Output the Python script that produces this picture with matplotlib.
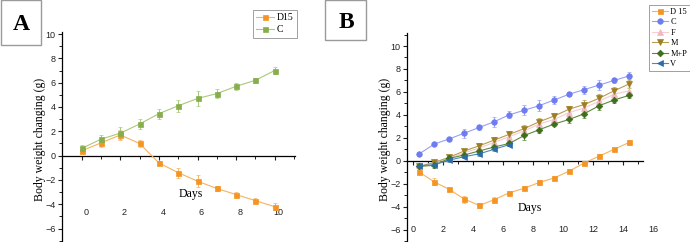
import matplotlib
matplotlib.use("Agg")
import matplotlib.pyplot as plt
from matplotlib.patches import Rectangle
from matplotlib.lines import Line2D
from matplotlib.ticker import MultipleLocator
import matplotlib.transforms as mtrans

# ---------------- Data: panel A ----------------
days_a = [0, 1, 2, 3, 4, 5, 6, 7, 8, 9, 10]
a_d15 = [0.4, 1.05, 1.7, 1.0, -0.6, -1.4, -2.1, -2.7, -3.2, -3.7, -4.2]
a_d15_err = [0.2, 0.3, 0.4, 0.3, 0.2, 0.4, 0.5, 0.2, 0.2, 0.2, 0.3]
a_c = [0.6, 1.35, 1.85, 2.6, 3.45, 4.1, 4.7, 5.1, 5.7, 6.2, 7.0]
a_c_err = [0.3, 0.35, 0.5, 0.4, 0.4, 0.5, 0.6, 0.4, 0.3, 0.2, 0.3]

# ---------------- Data: panel B ----------------
days_b = [0.4, 1.4, 2.4, 3.4, 4.4, 5.4, 6.4, 7.4, 8.4, 9.4, 10.4, 11.4, 12.4, 13.4, 14.4]
b_d15 = [-1.0, -1.85, -2.5, -3.35, -3.9, -3.4, -2.8, -2.4, -1.9, -1.5, -0.9, -0.2, 0.4, 1.0, 1.6]
b_d15_err = [0.2, 0.3, 0.15, 0.3, 0.25, 0.2, 0.2, 0.15, 0.2, 0.15, 0.15, 0.15, 0.15, 0.15, 0.2]
b_c = [0.6, 1.45, 1.9, 2.4, 2.9, 3.4, 4.0, 4.4, 4.8, 5.3, 5.8, 6.2, 6.6, 7.0, 7.4]
b_c_err = [0.2, 0.2, 0.15, 0.4, 0.2, 0.45, 0.3, 0.45, 0.45, 0.35, 0.2, 0.35, 0.45, 0.25, 0.3]
b_f = [-0.4, -0.2, 0.2, 0.7, 1.1, 1.6, 2.1, 2.6, 3.2, 3.6, 4.2, 4.6, 5.2, 5.8, 6.1]
b_f_err = [0.2, 0.2, 0.2, 0.2, 0.25, 0.25, 0.3, 0.3, 0.3, 0.3, 0.35, 0.35, 0.35, 0.35, 0.35]
b_m = [-0.5, -0.15, 0.3, 0.85, 1.3, 1.8, 2.3, 2.8, 3.4, 3.9, 4.5, 4.9, 5.45, 6.1, 6.7]
b_m_err = [0.2, 0.2, 0.2, 0.2, 0.2, 0.25, 0.25, 0.3, 0.3, 0.3, 0.3, 0.35, 0.35, 0.35, 0.35]
b_mp = [-0.5, -0.4, 0.2, 0.5, 0.85, 1.2, 1.5, 2.2, 2.7, 3.2, 3.6, 4.1, 4.8, 5.3, 5.7]
b_mp_err = [0.15, 0.2, 0.15, 0.2, 0.2, 0.2, 0.25, 0.4, 0.3, 0.2, 0.3, 0.35, 0.4, 0.3, 0.25]
days_v = [0.4, 1.4, 2.4, 3.4, 4.4, 5.4, 6.4]
b_v = [-0.45, -0.35, 0.05, 0.35, 0.6, 1.0, 1.4]
b_v_err = [0.15, 0.15, 0.15, 0.15, 0.15, 0.15, 0.15]

xticks_a = [0, 2, 4, 6, 8, 10]
xticks_b = [0, 2, 4, 6, 8, 10, 12, 14, 16]
yticks = [-6, -4, -2, 0, 2, 4, 6, 8, 10]

SERIF = "Liberation Serif"
SANS = "Liberation Sans"

W, H = 690, 242
fig = plt.figure(figsize=(W / 100, H / 100), dpi=100)


def px_axes(left, right, top, bottom):
    return fig.add_axes([left / W, 1 - bottom / H, (right - left) / W, (bottom - top) / H])


def style_axes(ax, xpad, label_dx):
    for s in ("top", "right"):
        ax.spines[s].set_visible(False)
    ax.spines["bottom"].set_position(("data", 0))
    ax.spines["left"].set_linewidth(0.9)
    ax.spines["bottom"].set_linewidth(0.9)
    ax.yaxis.set_major_locator(MultipleLocator(2))
    ax.yaxis.set_minor_locator(MultipleLocator(1))
    ax.xaxis.set_minor_locator(MultipleLocator(1))
    ax.tick_params(which="both", direction="out", labelsize=6.5, colors="#222222")
    ax.tick_params(which="major", length=3, width=0.8)
    ax.tick_params(which="minor", length=2, width=0.7)
    ax.tick_params(axis="x", which="major", pad=xpad)
    ax.tick_params(axis="y", which="major", pad=1.5)
    for lab in ax.get_xticklabels() + ax.get_yticklabels():
        lab.set_fontfamily(SANS)
    if label_dx:
        off = mtrans.ScaledTranslation(label_dx / 100, 0, fig.dpi_scale_trans)
        for lab in ax.get_xticklabels():
            lab.set_transform(lab.get_transform() + off)


def series(ax, x, y, e, color, lcolor, marker, ms, label, handles):
    ax.errorbar(x, y, yerr=e, color=lcolor, ecolor=lcolor, elinewidth=0.7, capsize=1.5,
                capthick=0.7, lw=0.8, marker=marker, ms=ms, mfc=color, mec=color,
                mew=0.5, zorder=3)
    handles.append(Line2D([], [], color=lcolor, lw=0.8, marker=marker, ms=ms, mfc=color,
                          mec=color, mew=0.5, label=label))


# ---------------- Panel A ----------------
axA = px_axes(62, 295, 32.2, 242)
axA.set_xlim(-1.02, 11.05)
axA.set_ylim(-7.1, 10.15)
axA.set_xticks(xticks_a)
axA.set_yticks(yticks)
hA = []
series(axA, days_a, a_d15, a_d15_err, "#F39423", "#F7B25E", "s", 3.6, "D15", hA)
series(axA, days_a, a_c, a_c_err, "#86AE4C", "#A9C97A", "s", 3.6, "C", hA)
style_axes(axA, 35, 4)
axA.text(0.553, 0.229, "Days", transform=axA.transAxes, ha="center", va="center",
         fontsize=8.5, fontfamily=SERIF)
fig.text(40 / W, 1 - 139 / H, "Body weight changing (g)", rotation=90, ha="center",
         va="center", fontsize=8.5, fontfamily=SERIF)
legA = fig.legend(handles=hA, loc="upper right",
                  bbox_to_anchor=(297 / W, 1 - 10 / H), frameon=True, fancybox=False,
                  prop={"family": SERIF, "size": 7}, handlelength=1.8, handletextpad=0.3,
                  borderpad=0.35, labelspacing=0.3, borderaxespad=0)
legA.get_frame().set_edgecolor("#888888")
legA.get_frame().set_linewidth(0.7)

# ---------------- Panel B ----------------
axB = px_axes(406.7, 657.8, 33.4, 242)
axB.set_xlim(-0.44, 16.3)
axB.set_ylim(-7.09, 11.1)
axB.set_xticks(xticks_b)
axB.set_yticks(yticks)
hB = []
series(axB, days_b, b_d15, b_d15_err, "#F39423", "#F7B25E", "s", 3.6, "D 15", hB)
series(axB, days_b, b_c, b_c_err, "#6E7CF0", "#97A1F4", "o", 4.0, "C", hB)
series(axB, days_b, b_f, b_f_err, "#F2B8C2", "#F5CDD3", "^", 4.0, "F", hB)
series(axB, days_b, b_m, b_m_err, "#9E7E22", "#B89C4E", "v", 4.2, "M", hB)
series(axB, days_b, b_mp, b_mp_err, "#3E6E1C", "#5E8A3A", "D", 3.4, "M+P", hB)
series(axB, days_v, b_v, b_v_err, "#2A6CA8", "#4F88BB", "<", 4.2, "V", hB)
style_axes(axB, 43, 0)
axB.spines["bottom"].set_bounds(-0.44, 15.3)
axB.xaxis.get_major_ticks()[-1].tick1line.set_visible(False)
axB.text(0.491, 0.163, "Days", transform=axB.transAxes, ha="center", va="center",
         fontsize=8.5, fontfamily=SERIF)
fig.text(385 / W, 1 - 139 / H, "Body weight changing (g)", rotation=90, ha="center",
         va="center", fontsize=8.5, fontfamily=SERIF)
legB = fig.legend(handles=hB, loc="upper right",
                  bbox_to_anchor=(690 / W, 1 - 5 / H), frameon=True, fancybox=False,
                  prop={"family": SERIF, "size": 6}, handlelength=1.9, handletextpad=0.3,
                  borderpad=0.35, labelspacing=0.3, borderaxespad=0)
legB.get_frame().set_edgecolor("#888888")
legB.get_frame().set_linewidth(0.7)

# ---------------- Panel letters ----------------
for (x0, x1, y1, cx, cy, letter) in [(0.5, 41, 45, 21, 25, "A"), (325, 366, 40, 346.5, 22.5, "B")]:
    fig.add_artist(Rectangle((x0 / W, 1 - y1 / H), (x1 - x0) / W, (y1 - 0.5) / H,
                             transform=fig.transFigure, fill=False, edgecolor="#9a9a9a",
                             lw=1.0))
    fig.text(cx / W, 1 - cy / H, letter, ha="center", va="center", fontsize=17,
             fontweight="bold", fontfamily=SERIF)

fig.savefig("out.png", dpi=100)
